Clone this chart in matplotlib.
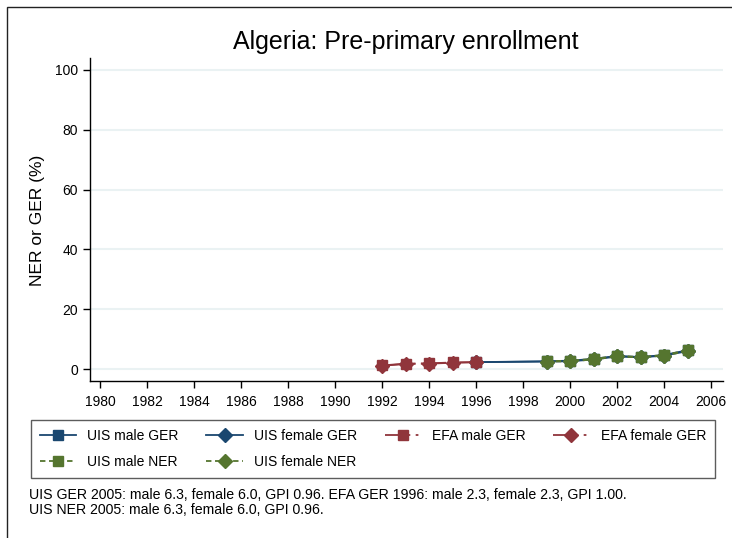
import matplotlib
matplotlib.use("Agg")
import matplotlib.pyplot as plt
from matplotlib.patches import Rectangle

plt.rcParams["font.family"] = ["Liberation Sans", "DejaVu Sans"]

NAVY = "#1A476F"
MAROON = "#90353B"
GREEN = "#55752F"
GRID = "#EAF2F3"

uis_years = [1996, 1999, 2000, 2001, 2002, 2003, 2004, 2005]
uis_male_ger = [2.3, 2.6, 2.8, 3.4, 4.4, 4.0, 4.7, 6.3]
uis_female_ger = [2.3, 2.5, 2.6, 3.2, 4.2, 3.9, 4.5, 6.0]

efa_years = [1992, 1993, 1994, 1995, 1996]
efa_male_ger = [1.2, 1.8, 1.9, 2.2, 2.3]
efa_female_ger = [1.1, 1.7, 1.8, 2.1, 2.3]

ner_years = [1999, 2000, 2001, 2002, 2003, 2004, 2005]
uis_male_ner = [2.6, 2.8, 3.4, 4.4, 4.0, 4.7, 6.3]
uis_female_ner = [2.5, 2.6, 3.2, 4.2, 3.9, 4.5, 6.0]

x_ticks = list(range(1980, 2007, 2))
y_ticks = [0, 20, 40, 60, 80, 100]

title = "Algeria: Pre-primary enrollment"
notes = [
    "UIS GER 2005: male 6.3, female 6.0, GPI 0.96. EFA GER 1996: male 2.3, female 2.3, GPI 1.00.",
    "UIS NER 2005: male 6.3, female 6.0, GPI 0.96.",
]

fig = plt.figure(figsize=(7.32, 5.38), dpi=100)
ax = fig.add_axes([90 / 732, 1 - 381 / 538, (723 - 90) / 732, (381 - 58) / 538])

efa_dash = (0, (14, 3, 1.5, 3))
ner_dash = (0, (3, 2))
ms = 7.5

ax.plot(uis_years, uis_male_ger, color=NAVY, lw=1.3, marker="s", ms=ms,
        label="UIS male GER")
ax.plot(uis_years, uis_female_ger, color=NAVY, lw=1.3, marker="D", ms=ms - 0.5,
        label="UIS female GER")
ax.plot(efa_years, efa_male_ger, color=MAROON, lw=1.3, ls=efa_dash, marker="s", ms=ms,
        label="EFA male GER")
ax.plot(efa_years, efa_female_ger, color=MAROON, lw=1.3, ls=efa_dash, marker="D", ms=ms - 0.5,
        label="EFA female GER")
ax.plot(ner_years, uis_male_ner, color=GREEN, lw=1.3, ls=ner_dash, marker="s", ms=ms,
        label="UIS male NER")
ax.plot(ner_years, uis_female_ner, color=GREEN, lw=1.3, ls=ner_dash, marker="D", ms=ms - 0.5,
        label="UIS female NER")

ax.set_xlim(1979.57, 2006.5)
ax.set_ylim(-4.0, 104.0)
ax.set_xticks(x_ticks)
ax.set_yticks(y_ticks)
ax.grid(axis="y", color=GRID, lw=1.5)
ax.set_axisbelow(True)
for side in ("top", "right"):
    ax.spines[side].set_visible(False)
for side in ("left", "bottom"):
    ax.spines[side].set_linewidth(1.0)
ax.tick_params(axis="both", labelsize=10, length=5, width=1.0)
ax.tick_params(axis="x", pad=5)
ax.tick_params(axis="y", pad=3.5)
ax.set_ylabel("NER or GER (%)", fontsize=12.5)
ax.yaxis.set_label_coords(45 / 732, 1 - 220 / 538, transform=fig.transFigure)

fig.text(406 / 732, 1 - 42 / 538, title, fontsize=18, ha="center", va="center")

handles, labels = ax.get_legend_handles_labels()
order = [0, 4, 1, 5, 2, 3]
leg = fig.legend([handles[i] for i in order], [labels[i] for i in order],
                 ncol=4, loc="upper left", mode="expand", borderaxespad=0,
                 bbox_to_anchor=(31 / 732, 1 - 479 / 538, (715 - 31) / 732, (479 - 420) / 538),
                 fontsize=10, frameon=True, fancybox=False, edgecolor="#333333",
                 handlelength=2.6, handletextpad=0.8, borderpad=0.65, labelspacing=0.85)
leg.get_frame().set_linewidth(1.0)

fig.text(29 / 732, 1 - 495 / 538, notes[0], fontsize=10.2, ha="left", va="center")
fig.text(29 / 732, 1 - 509.5 / 538, notes[1], fontsize=10.2, ha="left", va="center")

fig.add_artist(Rectangle((7 / 732, -0.2), 5, 1.2 - 7 / 538, transform=fig.transFigure,
                         fill=False, edgecolor="#222222", lw=1.0))

fig.savefig("out.png", dpi=100)
